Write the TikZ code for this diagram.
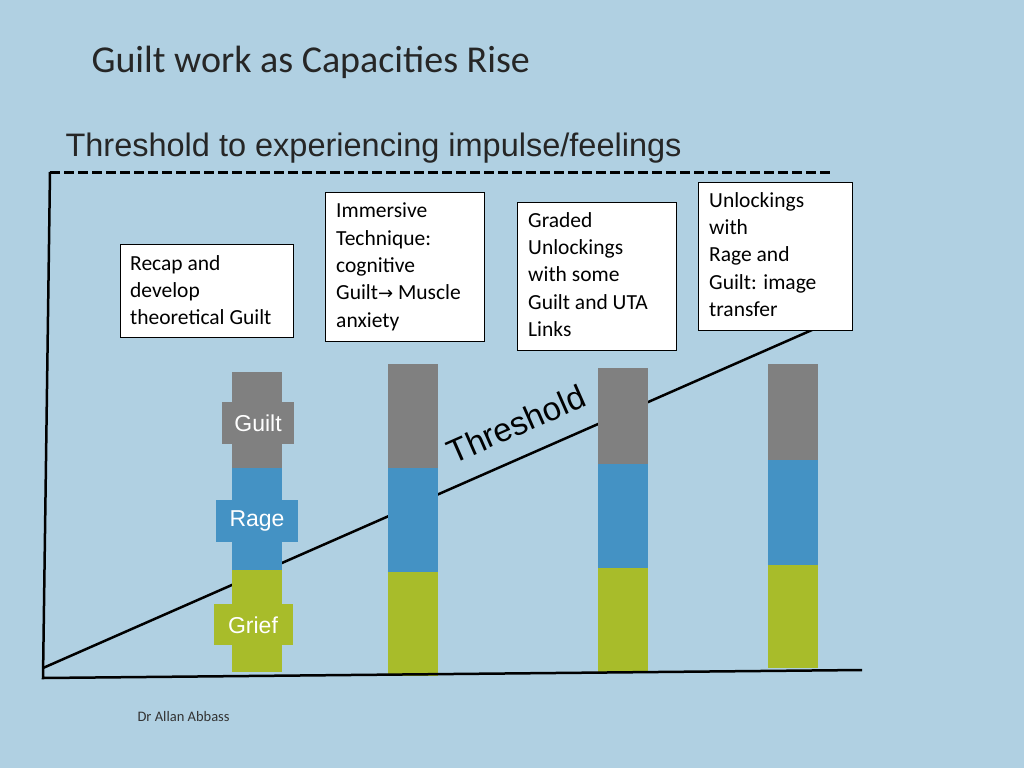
\documentclass[tikz,border=0pt]{standalone}
\usepackage{fontspec}
\setmainfont{Carlito}
\newfontfamily\arialf{Liberation Sans}
\newfontfamily\dvs{DejaVu Sans}
\definecolor{bg}{RGB}{176,208,226}
\definecolor{gry}{RGB}{128,128,128}
\definecolor{blu}{RGB}{68,146,196}
\definecolor{grn}{RGB}{168,188,42}
\tikzset{txtbox/.style={align=left,anchor=north west,inner sep=0pt,font=\fontsize{21.5}{27.3}\selectfont},
lbl/.style={text=white,font=\arialf\fontsize{23}{23}\selectfont,inner sep=0pt}}
\begin{document}
\begin{tikzpicture}[x=1pt,y=-1pt]
\fill[bg] (0,0) rectangle (1024,768);
\useasboundingbox (0,0) rectangle (1024,768);
\node[anchor=west,font=\fontsize{38}{38}\selectfont,text=black!85] (title) at (88,62) {Guilt work as Capacities Rise};
\node[anchor=west,font=\arialf\fontsize{32.5}{32.5}\selectfont,text=black!85] (sub) at (62,148) {Threshold to experiencing impulse/feelings};
\draw[line width=3pt,dash pattern=on 10pt off 4pt] (50,172) -- (830,172);
\coordinate (top) at (50,172); \coordinate (o) at (43,678); \coordinate (xe) at (862,670);
\coordinate (t0) at (43,668); \coordinate (t1) at (812,330);
\draw[line width=2.5pt] (t0) -- (t1);
\foreach \x/\a/\b/\c/\d in {232/372/468/570/672, 388/364/468/572/676, 598/368/464/568/672, 768/364/460/565/668}{
 \fill[gry] (\x,\a) rectangle (\x+50,\b);
 \fill[blu] (\x,\b) rectangle (\x+50,\c);
 \fill[grn] (\x,\c) rectangle (\x+50,\d);}
\draw[line width=2.5pt] (top) -- (o) -- (xe);
\node[inner sep=0pt,rotate=23.7,font=\arialf\fontsize{33}{33}\selectfont] (thr) at (516,424) {Threshold};
\fill[gry] (222,402) rectangle (294,444); \node[lbl] (gl) at (258,423) {Guilt};
\fill[blu] (216,500) rectangle (298,542); \node[lbl] (rl) at (257,521) {Rage};
\fill[grn] (214,604) rectangle (293,645); \node[lbl] (fl) at (253,625) {Grief};
\draw[fill=white] (120,244) rectangle (293,337);
\node[txtbox] (b1) at (130,255) {Recap and\\develop\\theoretical Guilt};
\draw[fill=white] (325,192) rectangle (484,341);
\node[txtbox] (b2) at (336,203) {Immersive\\Technique:\\cognitive\\Guilt{\dvs\fontsize{18}{27}\selectfont→} Muscle\\anxiety};
\draw[fill=white] (517,202) rectangle (676,350);
\node[txtbox] (b3) at (528,212) {Graded\\Unlockings\\with some\\Guilt and UTA\\Links};
\draw[fill=white] (698,182) rectangle (852,330);
\node[txtbox] (b4) at (709,192) {Unlockings\\with\\Rage and\\Guilt: image\\transfer};
\node[anchor=west,font=\fontsize{14.5}{14}\selectfont,text=black!80] (ft) at (134,717) {Dr Allan Abbass};
\end{tikzpicture}
\end{document}
